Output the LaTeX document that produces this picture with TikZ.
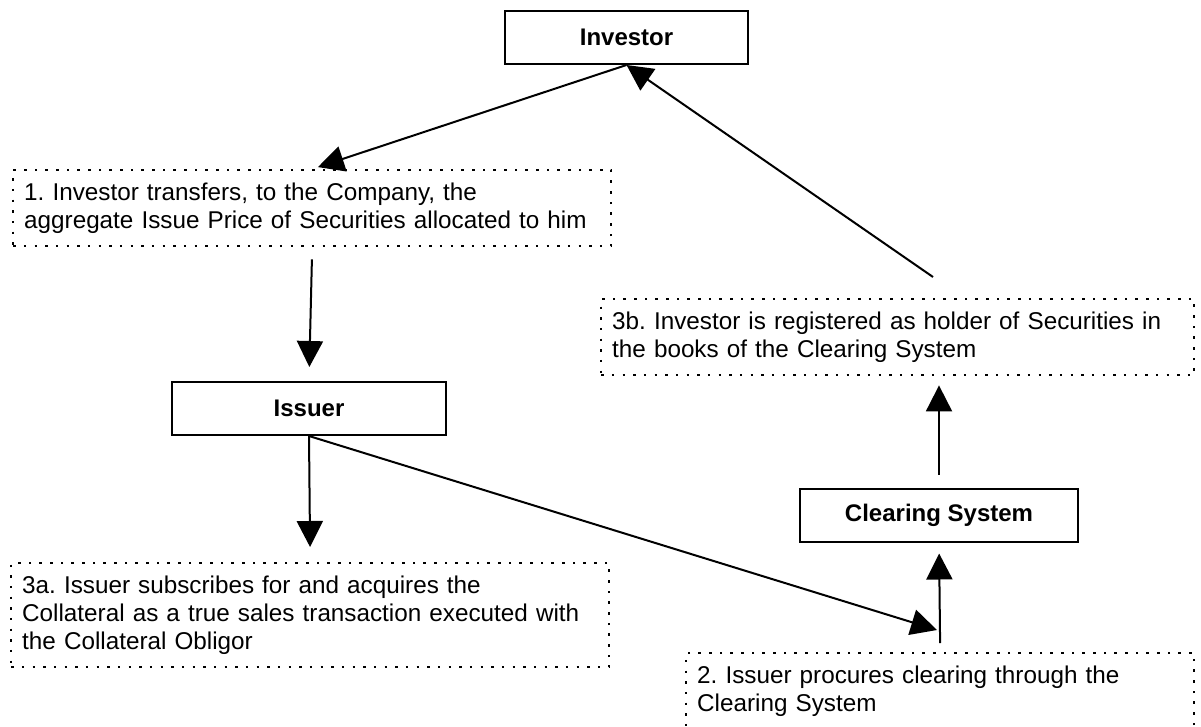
\documentclass[tikz,border=0pt]{standalone}
\usepackage{fontspec}
\setmainfont{Liberation Sans}
\usetikzlibrary{arrows.meta}
\usetikzlibrary{calc}
\frenchspacing

\tikzset{
  party/.style={draw, line width=1.5pt, font=\fontsize{18}{21}\selectfont\bfseries,
    minimum height=39.75pt, inner sep=0pt},
  note/.style={draw, line width=1.8pt, dash pattern=on 1.8pt off 6.2pt,
    anchor=north west, align=left, inner xsep=8.25pt, inner ysep=0pt,
    font=\fontsize{18.2}{21}\selectfont},
}

\begin{document}
\begin{tikzpicture}[x=0.75pt, y=-0.75pt, line width=1.5pt,
    >={Triangle[length=19.5pt, width=19.5pt]}]
            \clip (0,0) rectangle (1201,727);
            \node[party, minimum width=182.25pt] (inv) at (626.5,37.5) {Investor};
            \node[party, minimum width=205.5pt] (iss) at (309,408.5) {Issuer};
            \node[party, minimum width=208.5pt] (clr) at (939,515) {Clearing System};
            \node[note, text width=432pt, minimum height=57pt] (s1) at (12,169)
                {1. Investor transfers, to the Company, the\\aggregate Issue Price of Securities allocated to him};
            \node[note, text width=428.25pt, minimum height=57pt] (s3b) at (600,298)
                {3b. Investor is registered as holder of Securities in\\the books of the Clearing System};
            \node[note, text width=432pt, minimum height=78pt] (s3a) at (10,562)
                {3a. Issuer subscribes for and acquires the\\Collateral as a true sales transaction executed with\\the Collateral Obligor};
            \node[note, text width=364.5pt, minimum height=57pt] (s2) at (685,652)
                {2. Issuer procures clearing through the\\Clearing System};
            % free ends of the two long arrows
            \coordinate (from3b) at (933,277);
            \coordinate (to2) at (937,630);
            \draw[->, shorten >=4.5pt] (inv.south) -- (s1.north);
            \draw[->] (from3b) -- (inv.south);
            \draw[->, shorten <=9pt, shorten >=10.5pt] (s1.south) -- (iss.north);
            \draw[->, shorten >=11.25pt] (iss.south) -- (s3a.north);
            \draw[->] (iss.south) -- (to2);
            \draw[->, shorten <=6.75pt, shorten >=8.25pt] (s2.north) -- (clr.south);
            \draw[->, shorten <=9.75pt, shorten >=6.75pt] (clr.north) -- (clr.north |- s3b.south);
        \end{tikzpicture}
\end{document}
